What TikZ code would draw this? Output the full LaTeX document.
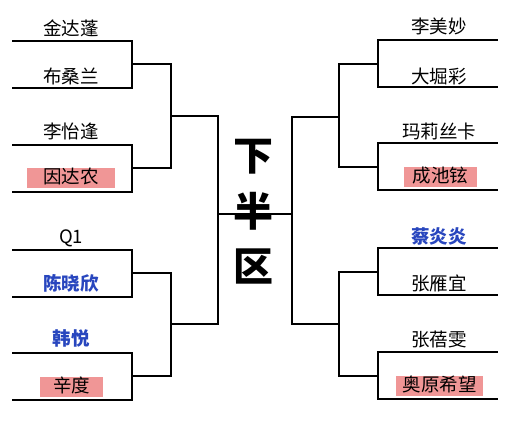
\documentclass[tikz,border=0pt]{standalone}
\usepackage{fontspec}
\newfontfamily\cjk{Noto Sans CJK SC}
\definecolor{seedblue}{RGB}{40,70,190}
\definecolor{outpink}{RGB}{240,150,150}

\begin{document}
\begin{tikzpicture}[
  x=1pt, y=-1pt,
  player/.style={font=\cjk\fontsize{18.5}{18.5}\selectfont, text height=1.05em, text depth=0em, inner sep=0pt},
  seed/.style={player, text=seedblue, font=\cjk\bfseries\fontsize{18.5}{18.5}\selectfont},
  lost/.style={player, fill=outpink, minimum height=20pt},
  title/.style={font=\cjk\bfseries\fontsize{40}{40}\selectfont, inner sep=0pt},
  bracket/.style={line width=1.1pt, line cap=rect},
]
\useasboundingbox (0,0) rectangle (512,430);

% ══ Column positions ══
\def\xl{13}  \def\xla{132} \def\xlb{171} \def\xlc{218}
\def\xr{497} \def\xra{378} \def\xrb{339} \def\xrc{292}

% ══ Left half ══
\node[player] (p1) at (71, 30) {金达蓬};
\node[player] (p2) at (71, 78) {布桑兰};
\node[player] (p3) at (71, 133) {李怡逢};
\node[lost, minimum width=88pt] (p4) at (71, 178) {因达农};
\node[player] (p5) at (71, 238) {Q1};
\node[seed] (p6) at (71, 285) {陈晓欣};
\node[seed] (p7) at (71, 340) {韩悦};
\node[lost, minimum width=63pt] (p8) at (71.5, 387.5) {辛度};

\coordinate (la1) at (\xl, 41);  \coordinate (lb1) at (\xla, 41);
\coordinate (la2) at (\xl, 88);  \coordinate (lb2) at (\xla, 88);
\coordinate (la3) at (\xl, 145); \coordinate (lb3) at (\xla, 145);
\coordinate (la4) at (\xl, 192); \coordinate (lb4) at (\xla, 192);
\coordinate (la5) at (\xl, 250); \coordinate (lb5) at (\xla, 250);
\coordinate (la6) at (\xl, 297); \coordinate (lb6) at (\xla, 297);
\coordinate (la7) at (\xl, 353); \coordinate (lb7) at (\xla, 353);
\coordinate (la8) at (\xl, 400); \coordinate (lb8) at (\xla, 400);

\draw[bracket] (la1) -- (lb1) -- (lb2) -- (la2);
\draw[bracket] (la3) -- (lb3) -- (lb4) -- (la4);
\draw[bracket] (la5) -- (lb5) -- (lb6) -- (la6);
\draw[bracket] (la7) -- (lb7) -- (lb8) -- (la8);

% quarter finals
\coordinate (lq1) at (\xlb, 64);
\coordinate (lq2) at (\xlb, 168);
\coordinate (lq3) at (\xlb, 273);
\coordinate (lq4) at (\xlb, 376);
\draw[bracket] (lb1 |- lq1) -- (lq1) -- (lq2) -- (lb3 |- lq2);
\draw[bracket] (lb5 |- lq3) -- (lq3) -- (lq4) -- (lb7 |- lq4);

% semi final
\coordinate (ls1) at (\xlc, 116);
\coordinate (ls2) at (\xlc, 324);
\draw[bracket] (lq1 |- ls1) -- (ls1) -- (ls2) -- (lq3 |- ls2);

% ══ Right half ══
\node[player] (q1) at (439, 28) {李美妙};
\node[player] (q2) at (439, 78) {大堀彩};
\node[player] (q3) at (439, 133) {玛莉丝卡};
\node[lost, minimum width=73pt] (q4) at (440.5, 177) {成池铉};
\node[seed] (q5) at (439, 238) {蔡炎炎};
\node[player] (q6) at (439, 285) {张雁宜};
\node[player] (q7) at (439, 341) {张蓓雯};
\node[lost, minimum width=87pt] (q8) at (439.5, 386.5) {奥原希望};

\coordinate (ra1) at (\xr, 40);  \coordinate (rb1) at (\xra, 40);
\coordinate (ra2) at (\xr, 87);  \coordinate (rb2) at (\xra, 87);
\coordinate (ra3) at (\xr, 143); \coordinate (rb3) at (\xra, 143);
\coordinate (ra4) at (\xr, 190); \coordinate (rb4) at (\xra, 190);
\coordinate (ra5) at (\xr, 248); \coordinate (rb5) at (\xra, 248);
\coordinate (ra6) at (\xr, 295); \coordinate (rb6) at (\xra, 295);
\coordinate (ra7) at (\xr, 352); \coordinate (rb7) at (\xra, 352);
\coordinate (ra8) at (\xr, 399); \coordinate (rb8) at (\xra, 399);

\draw[bracket] (ra1) -- (rb1) -- (rb2) -- (ra2);
\draw[bracket] (ra3) -- (rb3) -- (rb4) -- (ra4);
\draw[bracket] (ra5) -- (rb5) -- (rb6) -- (ra6);
\draw[bracket] (ra7) -- (rb7) -- (rb8) -- (ra8);

% quarter finals
\coordinate (rq1) at (\xrb, 64);
\coordinate (rq2) at (\xrb, 167);
\coordinate (rq3) at (\xrb, 272);
\coordinate (rq4) at (\xrb, 376);
\draw[bracket] (rb1 |- rq1) -- (rq1) -- (rq2) -- (rb3 |- rq2);
\draw[bracket] (rb5 |- rq3) -- (rq3) -- (rq4) -- (rb7 |- rq4);

% semi final
\coordinate (rs1) at (\xrc, 117);
\coordinate (rs2) at (\xrc, 324);
\draw[bracket] (rq1 |- rs1) -- (rs1) -- (rs2) -- (rq3 |- rs2);

% ══ Final ══
\coordinate (lf) at (\xlc, 214);
\coordinate (rf) at (\xrc, 214);
\draw[bracket] (lf) -- (rf);

\node[title] (tdown) at (253, 157) {下};
\node[title] (thalf) at (253, 211) {半};
\node[title] (tzone) at (253, 267) {区};

\end{tikzpicture}
\end{document}
